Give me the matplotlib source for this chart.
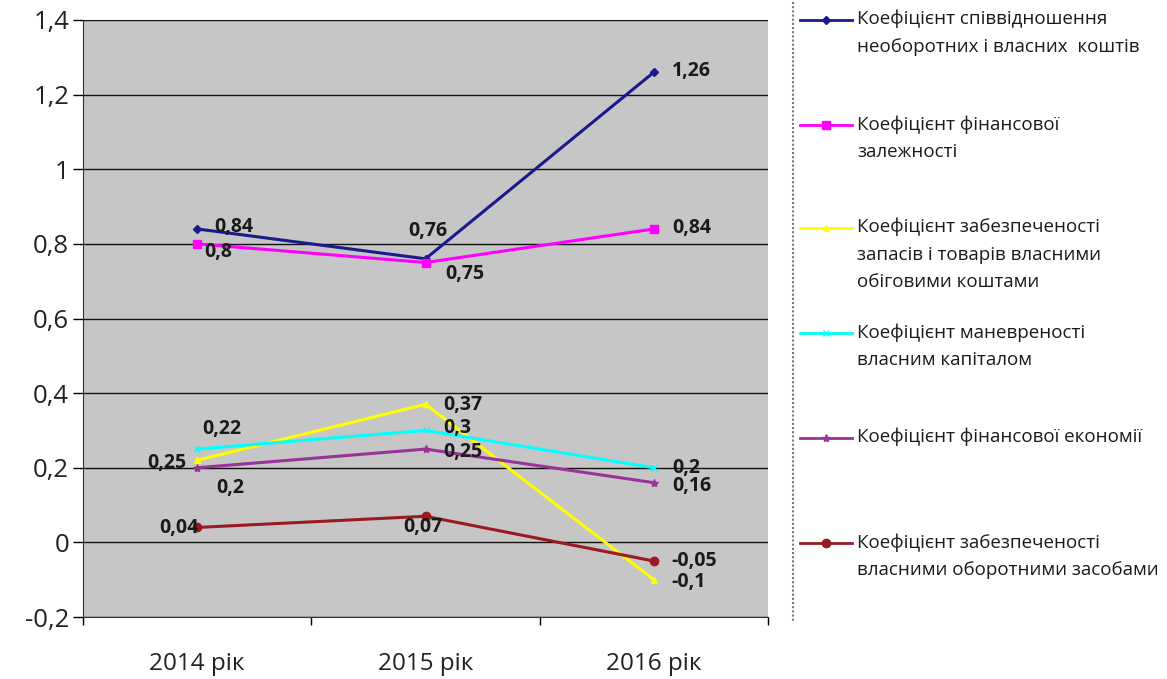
import matplotlib
matplotlib.use("Agg")
import matplotlib.pyplot as plt
from matplotlib.lines import Line2D

plt.rcParams['font.family'] = ['Open Sans', 'DejaVu Sans']

years = ["2014 рік", "2015 рік", "2016 рік"]

names = [
    "Коефіцієнт співвідношення\nнеоборотних і власних  коштів",
    "Коефіцієнт фінансової\nзалежності",
    "Коефіцієнт забезпеченості\nзапасів і товарів власними\nобіговими коштами",
    "Коефіцієнт маневреності\nвласним капіталом",
    "Коефіцієнт фінансової економії",
    "Коефіцієнт забезпеченості\nвласними оборотними засобами",
]

noncurrent_to_equity = [0.84, 0.76, 1.26]
financial_dependence = [0.80, 0.75, 0.84]
inventory_coverage = [0.22, 0.37, -0.10]
equity_maneuverability = [0.25, 0.30, 0.20]
financial_economy = [0.20, 0.25, 0.16]
working_capital_coverage = [0.04, 0.07, -0.05]

series = [noncurrent_to_equity, financial_dependence, inventory_coverage,
          equity_maneuverability, financial_economy, working_capital_coverage]
colors = ["#1a1a8c", "#ff00ff", "#ffff00", "#00ffff", "#993399", "#9b1a22"]
markers = ["D", "s", "^", "x", "*", "o"]
msizes = [4, 6, 5, 5, 6, 6]

# label offsets in pixels (dx, dy) from each point, left-aligned text
offsets_px = [
    [(17, 2), (-17, 28), (18, 1)],
    [(7, -8), (20, -11), (18, 1)],
    [(5, 31), (18, -1), (18, -2)],
    [(-50, -14), (18, 2), (18, 0)],
    [(19, -20), (18, -3), (18, -3)],
    [(-38, -1), (-22, -11), (18, 0)],
]

fig = plt.figure(figsize=(11.67, 6.79), dpi=100)
ax = fig.add_axes([83 / 1167, 1 - 617 / 679, (768 - 83) / 1167, (617 - 20) / 679])
ax.set_facecolor("#c6c6c6")

x = list(range(len(years)))
for vals, c, m, ms, offs in zip(series, colors, markers, msizes, offsets_px):
    ax.plot(x, vals, color=c, lw=2.2, marker=m, ms=ms, mec=c, mfc=c, zorder=3)
    for xi, v, (dx, dy) in zip(x, vals, offs):
        txt = f"{v:g}".replace(".", ",")
        ax.annotate(txt, (xi, v), xytext=(dx * 0.72, dy * 0.72),
                    textcoords="offset points", ha="left", va="center",
                    fontsize=14, fontweight="bold", color="#1a1a1a", zorder=4)

ax.set_xlim(-0.5, 2.5)
ax.set_ylim(-0.2, 1.4)
yt = [-0.2, 0, 0.2, 0.4, 0.6, 0.8, 1.0, 1.2, 1.4]
ax.set_yticks(yt)
ax.set_yticklabels([f"{v:g}".replace(".", ",") for v in yt], fontsize=18.5, color="#222222")
ax.yaxis.grid(True, color="#111111", lw=1)
ax.set_axisbelow(True)
ax.tick_params(axis="y", length=7, width=1, pad=3)

ax.set_xticks([-0.5, 0.5, 1.5, 2.5])
ax.set_xticklabels([])
ax.set_xticks(x, minor=True)
ax.set_xticklabels(years, minor=True, fontsize=17.5, color="#222222")
ax.tick_params(axis="x", which="major", length=6, width=1)
ax.tick_params(axis="x", which="minor", length=0, pad=25)

for s in ["top", "right"]:
    ax.spines[s].set_visible(False)
ax.spines["left"].set_color("#333333")
ax.spines["bottom"].set_color("#333333")

# legend panel
W, H = 1167, 679
fig.add_artist(Line2D([793 / W, 793 / W], [1 - 2 / H, 1 - 622 / H],
                      color="#777777", lw=1.5, ls=(0, (1, 1))))
entry_tops = [20, 125, 228, 333, 438, 543]
for name, c, m, ms, yt0 in zip(names, colors, markers, msizes, entry_tops):
    yy = 1 - yt0 / H
    fig.add_artist(Line2D([800 / W, 852 / W], [yy, yy], color=c, lw=2))
    fig.add_artist(Line2D([826 / W], [yy], color=c, marker=m, ms=ms, mec=c, mfc=c))
    fig.text(857 / W, yy + 10 / H, name, ha="left", va="top", fontsize=13.5,
             linespacing=1.65, color="#1a1a1a")

fig.savefig("out.png", dpi=100, facecolor="white")
